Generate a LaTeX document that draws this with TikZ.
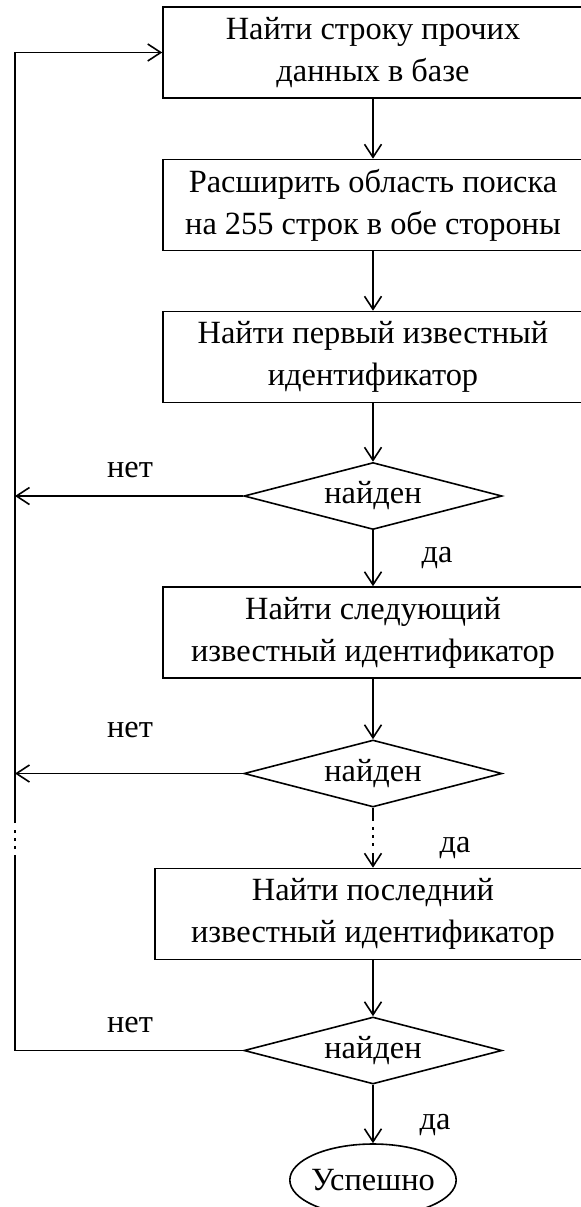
\documentclass[tikz,border=0pt]{standalone}
\usepackage{fontspec}
\setmainfont{Liberation Serif}
\usetikzlibrary{shapes.geometric,arrows.meta}

\begin{document}
\begin{tikzpicture}[
  x=0.5pt, y=-0.5pt,
  line width=0.8pt,
  >={Straight Barb[length=6.5pt,width=8.5pt]},
  every node/.style={font=\fontsize{16.2}{21}\selectfont,align=center,inner sep=0pt},
  block/.style={draw,rectangle,minimum width=210pt,minimum height=45.5pt},
  cond/.style={draw,diamond,shape aspect=3.85,minimum width=129pt,minimum height=33.5pt},
  finish/.style={draw,ellipse,inner sep=-1.5pt,minimum width=83pt,minimum height=36pt},
  dotgap/.style={dash pattern=on 0pt off 3pt on 1.5pt off 2.5pt on 1.5pt off 2.5pt on 1.5pt off 3.5pt}
]
  \useasboundingbox (0,0) rectangle (581,1207);

  \node[block] (b1) at (373,52.5)  {Найти строку прочих\\данных в базе};
  \node[block] (b2) at (373,205)   {Расширить область поиска\\на 255 строк в обе стороны};
  \node[block] (b3) at (373,357)   {Найти первый известный\\идентификатор};
  \node[cond]  (d1) at (373,496)   {найден};
  \node[block] (b4) at (373,632.5) {Найти следующий\\известный идентификатор};
  \node[cond]  (d2) at (373,773.5) {найден};
  \node[block,minimum width=218pt] (b5) at (373,914) {Найти последний\\известный идентификатор};
  \node[cond]  (d3) at (373,1050.5) {найден};
  \node[finish] (e1) at (373,1180) {Успешно};

  \node (n1) at (130,470)  {нет};
  \node (n2) at (130,730)  {нет};
  \node (n3) at (130,1025) {нет};
  \node (y1) at (437,558)  {да};
  \node (y2) at (455,848)  {да};
  \node (y3) at (435,1125) {да};

  \coordinate (l1) at (15,855);
  \coordinate (l2) at (15,823);
  \coordinate (m1) at (373,821);
  \coordinate (m2) at (373,853);

  \draw[->] (b1) -- (b2);
  \draw[->] (b2) -- (b3);
  \draw[->] (b3) -- (d1);
  \draw[->] (d1) -- (b4);
  \draw[->] (b4) -- (d2);
  \draw (d2) -- (m1);
  \draw[dotgap] (m1) -- (m2);
  \draw[->] (m2) -- (b5);
  \draw[->] (b5) -- (d3);
  \draw[->] (d3) -- (e1);

  \draw[->] (d1.west) -- (d1.west -| l1);
  \draw[->] (d2.west) -- (d2.west -| l1);
  \draw (d3.west) -| (l1);
  \draw[dotgap] (l1) -- (l2);
  \draw[->] (l2) |- (b1.west);
\end{tikzpicture}
\end{document}
